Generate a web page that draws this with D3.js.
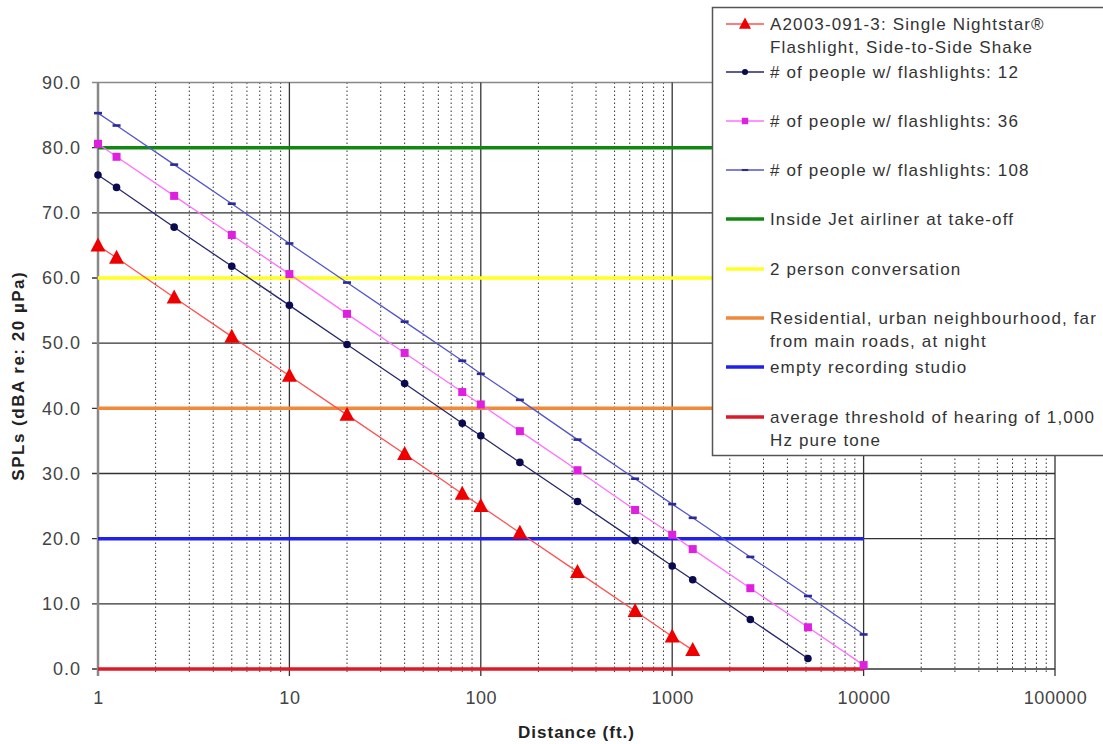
<!DOCTYPE html>
<meta charset="utf-8">
<script src="https://d3js.org/d3.v7.min.js"></script>
<style>
  body { margin: 0; background: #fff; }
  text { font-family: "Liberation Sans", Arial, sans-serif; }
</style>
<div id="chart"></div>
<script>

// distances (ft.) where the series were computed
var distances = [1, 1.25, 2.5, 5, 10, 20, 40, 80, 100, 160, 320, 640, 1000, 1280, 2560, 5120, 10000];

// SPL values (dBA re: 20 uPa)
var single = [65.0, 63.1, 57.0, 51.0, 45.0, 39.0, 33.0, 26.9, 25.0, 20.9, 14.9, 8.9, 5.0, 2.9];
var people12 = [75.8, 73.9, 67.8, 61.8, 55.8, 49.8, 43.8, 37.7, 35.8, 31.7, 25.7, 19.7, 15.8, 13.7, 7.6, 1.6];
var people36 = [80.6, 78.6, 72.6, 66.6, 60.6, 54.5, 48.5, 42.5, 40.6, 36.5, 30.5, 24.4, 20.6, 18.4, 12.4, 6.4, 0.6];
var people108 = [85.3, 83.4, 77.4, 71.4, 65.3, 59.3, 53.3, 47.3, 45.3, 41.3, 35.2, 29.2, 25.3, 23.2, 17.2, 11.2, 5.3];

// reference levels, drawn from 1 to 10000 ft
var refLevels = [80, 60, 40, 20, 0];
var refRange = [1, 10000];

var xTicks = [1, 10, 100, 1000, 10000, 100000];
var yTicks = [0, 10, 20, 30, 40, 50, 60, 70, 80, 90];

var legendNames = [
  ["A2003-091-3: Single Nightstar\u00AE", "Flashlight, Side-to-Side Shake"],
  ["# of people w/ flashlights: 12"],
  ["# of people w/ flashlights: 36"],
  ["# of people w/ flashlights: 108"],
  ["Inside Jet airliner at take-off"],
  ["2 person conversation"],
  ["Residential, urban neighbourhood, far", "from main roads, at night"],
  ["empty recording studio"],
  ["average threshold of hearing of 1,000", "Hz pure tone"]
];

var width = 1103, height = 744;
var margin = {top: 82.5, right: 48, bottom: 75, left: 98};

var svg = d3.select("#chart")
  .append("svg")
    .attr("width", width)
    .attr("height", height);

var x = d3.scaleLog()
  .domain([1, 100000])
  .range([margin.left, width - margin.right]);

var y = d3.scaleLinear()
  .domain([0, 90])
  .range([height - margin.bottom, margin.top]);

// minor vertical grid (dotted)
var minor = [];
xTicks.slice(0, -1).forEach(function(d) {
  for (var k = 2; k <= 9; k++) minor.push(d * k);
});

var grid = svg.append("g");
grid.selectAll(".minor")
  .data(minor)
  .enter().append("line")
    .attr("x1", function(d) { return x(d); })
    .attr("x2", function(d) { return x(d); })
    .attr("y1", y(90))
    .attr("y2", y(0) + 4)
    .attr("stroke", "#333")
    .attr("stroke-width", 1)
    .attr("stroke-dasharray", "1.5,2.5");

grid.selectAll(".hmajor")
  .data(yTicks)
  .enter().append("line")
    .attr("x1", x(1) - 6)
    .attr("x2", x(100000))
    .attr("y1", function(d) { return y(d); })
    .attr("y2", function(d) { return y(d); })
    .attr("stroke", function(d) { return d == 90 ? "#888" : "#333"; })
    .attr("stroke-width", 1.3);

grid.selectAll(".vmajor")
  .data(xTicks)
  .enter().append("line")
    .attr("x1", function(d) { return x(d); })
    .attr("x2", function(d) { return x(d); })
    .attr("y1", y(90))
    .attr("y2", y(0) + 7)
    .attr("stroke", function(d) { return d == 1 ? "#888" : "#333"; })
    .attr("stroke-width", function(d) { return d == 1 ? 2.5 : 1.3; });

// axes labels
var xAxis = svg.append("g")
  .attr("transform", "translate(0," + (y(0) + 2) + ")")
  .call(d3.axisBottom(x).tickValues(xTicks).tickFormat(d3.format("d")).tickSize(0).tickPadding(20));
xAxis.select(".domain").remove();
xAxis.selectAll("text")
  .style("font-size", "18px")
  .style("letter-spacing", "0.6px")
  .attr("fill", "#444");

var yAxis = svg.append("g")
  .attr("transform", "translate(" + (x(1) - 15) + ",0)")
  .call(d3.axisLeft(y).tickValues(yTicks).tickFormat(d3.format(".1f")).tickSize(0).tickPadding(2));
yAxis.select(".domain").remove();
yAxis.selectAll("text")
  .style("font-size", "18px")
  .style("letter-spacing", "1px")
  .attr("fill", "#444");

svg.append("text")
  .attr("x", (x(1) + x(100000)) / 2)
  .attr("y", 738)
  .attr("text-anchor", "middle")
  .style("font-size", "17px")
  .style("font-weight", "bold")
  .style("letter-spacing", "1px")
  .attr("fill", "#222")
  .text("Distance (ft.)");

svg.append("text")
  .attr("transform", "translate(24," + (y(45)) + ") rotate(-90)")
  .attr("text-anchor", "middle")
  .style("font-size", "17px")
  .style("font-weight", "bold")
  .style("letter-spacing", "1.5px")
  .attr("fill", "#222")
  .text("SPLs (dBA re: 20 \u00B5Pa)");

// reference levels
var refColors = ["#118811", "#ffff22", "#f08a3a", "#2020ee", "#dd1a2a"];
svg.append("g").selectAll("line")
  .data(refLevels)
  .enter().append("line")
    .attr("x1", x(refRange[0]))
    .attr("x2", x(refRange[1]))
    .attr("y1", function(d) { return y(d); })
    .attr("y2", function(d) { return y(d); })
    .attr("stroke", function(d, i) { return refColors[i]; })
    .attr("stroke-width", 3.5);

// series
var series = [
  {values: single, line: "#ff5050", fill: "#ee0000", marker: "triangle"},
  {values: people12, line: "#26266e", fill: "#0a0a50", marker: "circle"},
  {values: people36, line: "#ff70ff", fill: "#e020e0", marker: "square"},
  {values: people108, line: "#5555cc", fill: "#2a2a99", marker: "dash"}
];

var lineGen = d3.line()
  .x(function(d) { return x(d[0]); })
  .y(function(d) { return y(d[1]); });

function drawMarker(g, type, fill) {
  if (type == "triangle") {
    g.append("path").attr("d", "M0,-8L7.5,6L-7.5,6Z").attr("fill", fill);
  } else if (type == "circle") {
    g.append("circle").attr("r", 3.8).attr("fill", fill);
  } else if (type == "square") {
    g.append("rect").attr("x", -4).attr("y", -4).attr("width", 8).attr("height", 8).attr("fill", fill);
  } else {
    g.append("rect").attr("x", -4).attr("y", -1.3).attr("width", 8).attr("height", 2.6).attr("fill", fill);
  }
}

series.forEach(function(s) {
  var pts = s.values.map(function(v, i) { return [distances[i], v]; });
  svg.append("path")
    .datum(pts)
    .attr("fill", "none")
    .attr("stroke", s.line)
    .attr("stroke-width", 1.3)
    .attr("d", lineGen);
  svg.append("g").selectAll("g")
    .data(pts)
    .enter().append("g")
      .attr("transform", function(d) { return "translate(" + x(d[0]) + "," + y(d[1]) + ")"; })
      .each(function() { drawMarker(d3.select(this), s.marker, s.fill); });
});

// legend
var legend = svg.append("g");
legend.append("rect")
  .attr("x", 712.5)
  .attr("y", 7.5)
  .attr("width", 420)
  .attr("height", 448)
  .attr("fill", "#fff")
  .attr("stroke", "#555")
  .attr("stroke-width", 1.5);

var legendY = [24, 72, 121, 170, 219, 269, 318, 367, 417];
var legendStyles = series.map(function(s) { return {color: s.line, fill: s.fill, marker: s.marker, w: 1.3}; })
  .concat(refColors.map(function(c) { return {color: c, w: 3.5}; }));

legendNames.forEach(function(lines, i) {
  var st = legendStyles[i];
  var g = legend.append("g").attr("transform", "translate(0," + legendY[i] + ")");
  g.append("line")
    .attr("x1", 726).attr("x2", 764)
    .attr("stroke", st.color)
    .attr("stroke-width", st.w);
  if (st.marker) {
    var m = g.append("g").attr("transform", "translate(745,0) scale(0.8)");
    drawMarker(m, st.marker, st.fill);
  }
  lines.forEach(function(t, j) {
    g.append("text")
      .attr("x", 770)
      .attr("y", j * 23 + 6)
      .style("font-size", "17px")
      .style("letter-spacing", "1.15px")
      .attr("fill", "#333")
      .text(t);
  });
});

</script>
